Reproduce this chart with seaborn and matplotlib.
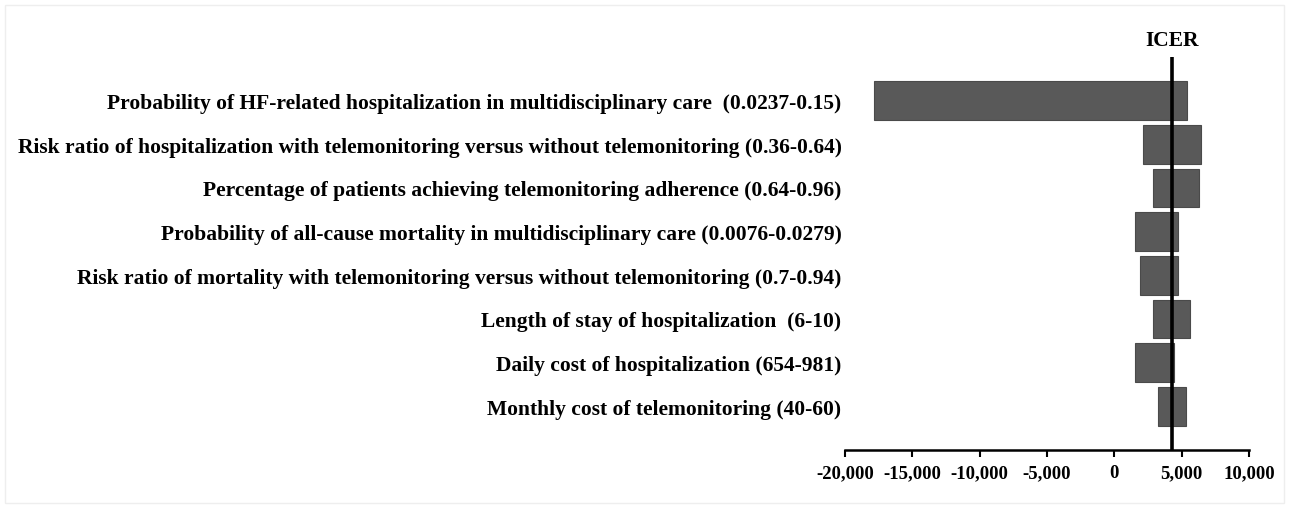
import matplotlib
matplotlib.use("Agg")
import matplotlib.pyplot as plt
import matplotlib.ticker as mticker
import seaborn as sns
import pandas as pd

# -------------------------
# Data
# -------------------------
params = [
    "Probability of HF-related hospitalization in multidisciplinary care  (0.0237-0.15)",
    "Risk ratio of hospitalization with telemonitoring versus without telemonitoring (0.36-0.64)",
    "Percentage of patients achieving telemonitoring adherence (0.64-0.96)",
    "Probability of all-cause mortality in multidisciplinary care (0.0076-0.0279)",
    "Risk ratio of mortality with telemonitoring versus without telemonitoring (0.7-0.94)",
    "Length of stay of hospitalization  (6-10)",
    "Daily cost of hospitalization (654-981)",
    "Monthly cost of telemonitoring (40-60)",
]
low_icer = [-17850, 2100, 2890, 1555, 1900, 2890, 1530, 3235]
high_icer = [5385, 6420, 6270, 4690, 4690, 5650, 4440, 5310]
base_icer = 4270
x_ticks = [-20000, -15000, -10000, -5000, 0, 5000, 10000]

df = pd.DataFrame({"param": params, "low": low_icer, "high": high_icer})
df["span"] = df["high"] - df["low"]

# -------------------------
# Plot
# -------------------------
sns.set_theme(style="white")
plt.rcParams["font.family"] = ["Liberation Serif", "DejaVu Serif"]
plt.rcParams["font.weight"] = "bold"
plt.rcParams["text.color"] = "black"
plt.rcParams["xtick.color"] = "black"
plt.rcParams["ytick.color"] = "black"

fig = plt.figure(figsize=(12.89, 5.06), dpi=100)
ax = fig.add_axes([0.6556, 0.1087, 0.969 - 0.6556, 0.8854 - 0.1087])

sns.barplot(data=df, x="span", y="param", orient="h", left=df["low"].values,
            color="#595959", saturation=1, width=0.88,
            edgecolor="#4a4a4a", linewidth=0.8, ax=ax)

ax.set_xlim(-20000, 10000)
ax.set_ylim(8, -1)
ax.axvline(base_icer, color="black", lw=2.6, zorder=5)
ax.text(base_icer, -1.15, "ICER", ha="center", va="bottom",
        fontsize=15.5, fontweight="bold", color="black")

ax.set_xticks(x_ticks)
ax.xaxis.set_major_formatter(mticker.FuncFormatter(lambda v, p: f"{int(v):,}"))
ax.tick_params(axis="x", bottom=True, length=5, width=1.5, labelsize=13.5,
               pad=5, color="black", labelcolor="black")
ax.tick_params(axis="y", left=False, length=0, labelsize=15.5, pad=2.5,
               labelcolor="black")
for lab in ax.get_xticklabels() + ax.get_yticklabels():
    lab.set_fontweight("bold")

sns.despine(ax=ax, left=True, top=True, right=True)
ax.spines["bottom"].set_linewidth(1.8)
ax.spines["bottom"].set_color("black")
ax.set_xlabel("")
ax.set_ylabel("")

# faint frame around the picture
fig.patches.append(plt.Rectangle((0.004, 0.004), 0.992, 0.985, transform=fig.transFigure,
                                 fill=False, edgecolor="#eeeeee", lw=1))

fig.savefig("out.png", dpi=100)
plt.close(fig)
